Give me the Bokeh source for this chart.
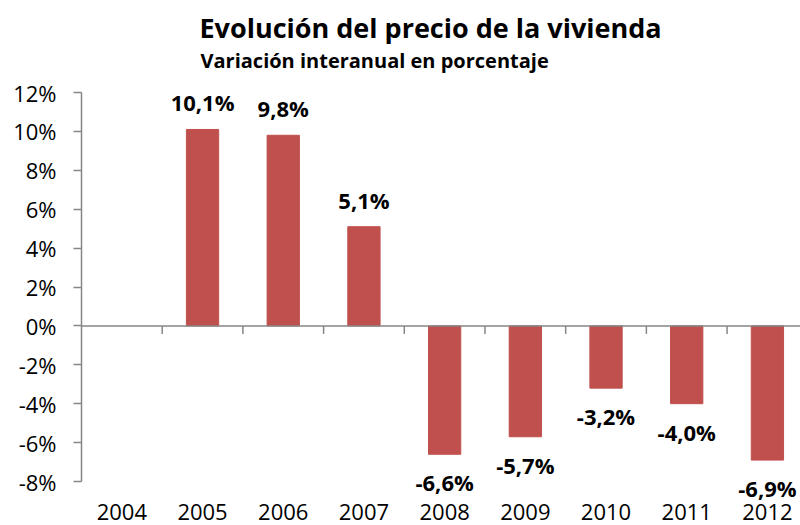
from bokeh.plotting import figure
from bokeh.models import (Range1d, FixedTicker, PrintfTickFormatter,
                          ColumnDataSource, Span)
from bokeh.core.properties import value
from bokeh.embed import file_html
from bokeh.resources import INLINE

# ---- data ----
years = ["2004", "2005", "2006", "2007", "2008", "2009", "2010", "2011", "2012"]
variation = [None, 10.1, 9.8, 5.1, -6.6, -5.7, -3.2, -4.0, -6.9]
y_ticks = [-8, -6, -4, -2, 0, 2, 4, 6, 8, 10, 12]
title_text = "Evolución del precio de la vivienda"
subtitle_text = "Variación interanual en porcentaje"

# ---- style / layout ----
BAR = "#C0504D"
AXIS = "#868686"
FONT = "Open Sans"
Y_MIN, Y_MAX = -8, 12
W, H = 800, 525
LEFT = 81            # px: plot area left edge
TOP_PX = 92          # px: position of Y_MAX from the top
BOTTOM_PX = 481      # px: position of Y_MIN from the top
px_per_unit = (BOTTOM_PX - TOP_PX) / (Y_MAX - Y_MIN)
y_lo = Y_MIN - (H - BOTTOM_PX) / px_per_unit
y_hi = Y_MAX + TOP_PX / px_per_unit

idx = [i for i, v in enumerate(variation) if v is not None]
vals = [variation[i] for i in idx]
labels = [f"{v:.1f}".replace(".", ",") + "%" for v in vals]
offsets = [-27 if v >= 0 else 28 for v in vals]
src = ColumnDataSource(dict(x=idx, top=vals, label=labels, yoff=offsets))

p = figure(width=W, height=H, output_backend="svg", toolbar_location=None,
           x_range=Range1d(-0.5, 8.41), y_range=Range1d(y_lo, y_hi),
           x_axis_location=None,
           min_border_left=LEFT, min_border_right=0, min_border_top=0,
           min_border_bottom=0, background_fill_color="white",
           border_fill_color="white")
p.outline_line_color = None
p.grid.visible = False

p.vbar(x="x", top="top", bottom=0, width=0.4, source=src,
       fill_color=BAR, line_color=BAR)

# zero line with category separators
p.add_layout(Span(location=0, dimension="width", line_color=AXIS, line_width=1.5))
sep_x = [i + 0.5 for i in range(len(years))]
tick_len = 8 / px_per_unit
p.segment(x0=sep_x, x1=sep_x, y0=[0] * len(sep_x), y1=[-tick_len] * len(sep_x),
          line_color=AXIS, line_width=1.5)

# data labels
p.text(x="x", y="top", text="label", source=src, y_offset="yoff",
       text_align="center", text_baseline="middle",
       text_font=value(FONT), text_font_style="bold",
       text_font_size="22px", text_color="black")

# category labels below the plot area
p.text(x=list(range(len(years))), y=[Y_MIN] * len(years), text=years,
       y_offset=30, text_align="center", text_baseline="middle",
       text_font=value(FONT), text_font_size="22px", text_color="black")

# title and subtitle
p.text(x=[-0.5], y=[Y_MAX], text=[title_text], x_offset=118, y_offset=-65,
       text_align="left", text_baseline="middle",
       text_font=value(FONT), text_font_style="bold",
       text_font_size="27px", text_color="black")
p.text(x=[-0.5], y=[Y_MAX], text=[subtitle_text], x_offset=119, y_offset=-32,
       text_align="left", text_baseline="middle",
       text_font=value(FONT), text_font_style="bold",
       text_font_size="20px", text_color="black")

# y axis
ya = p.yaxis[0]
ya.bounds = (Y_MIN, Y_MAX)
ya.ticker = FixedTicker(ticks=y_ticks)
ya.formatter = PrintfTickFormatter(format="%d%%")
ya.axis_line_color = AXIS
ya.axis_line_width = 1.5
ya.major_tick_line_color = AXIS
ya.major_tick_line_width = 1.5
ya.major_tick_in = 0
ya.major_tick_out = 8
ya.minor_tick_line_color = None
ya.major_label_standoff = 17
ya.major_label_text_font = FONT
ya.major_label_text_font_size = "22px"
ya.major_label_text_color = "black"

open("out.html", "w").write(file_html(p, INLINE))
